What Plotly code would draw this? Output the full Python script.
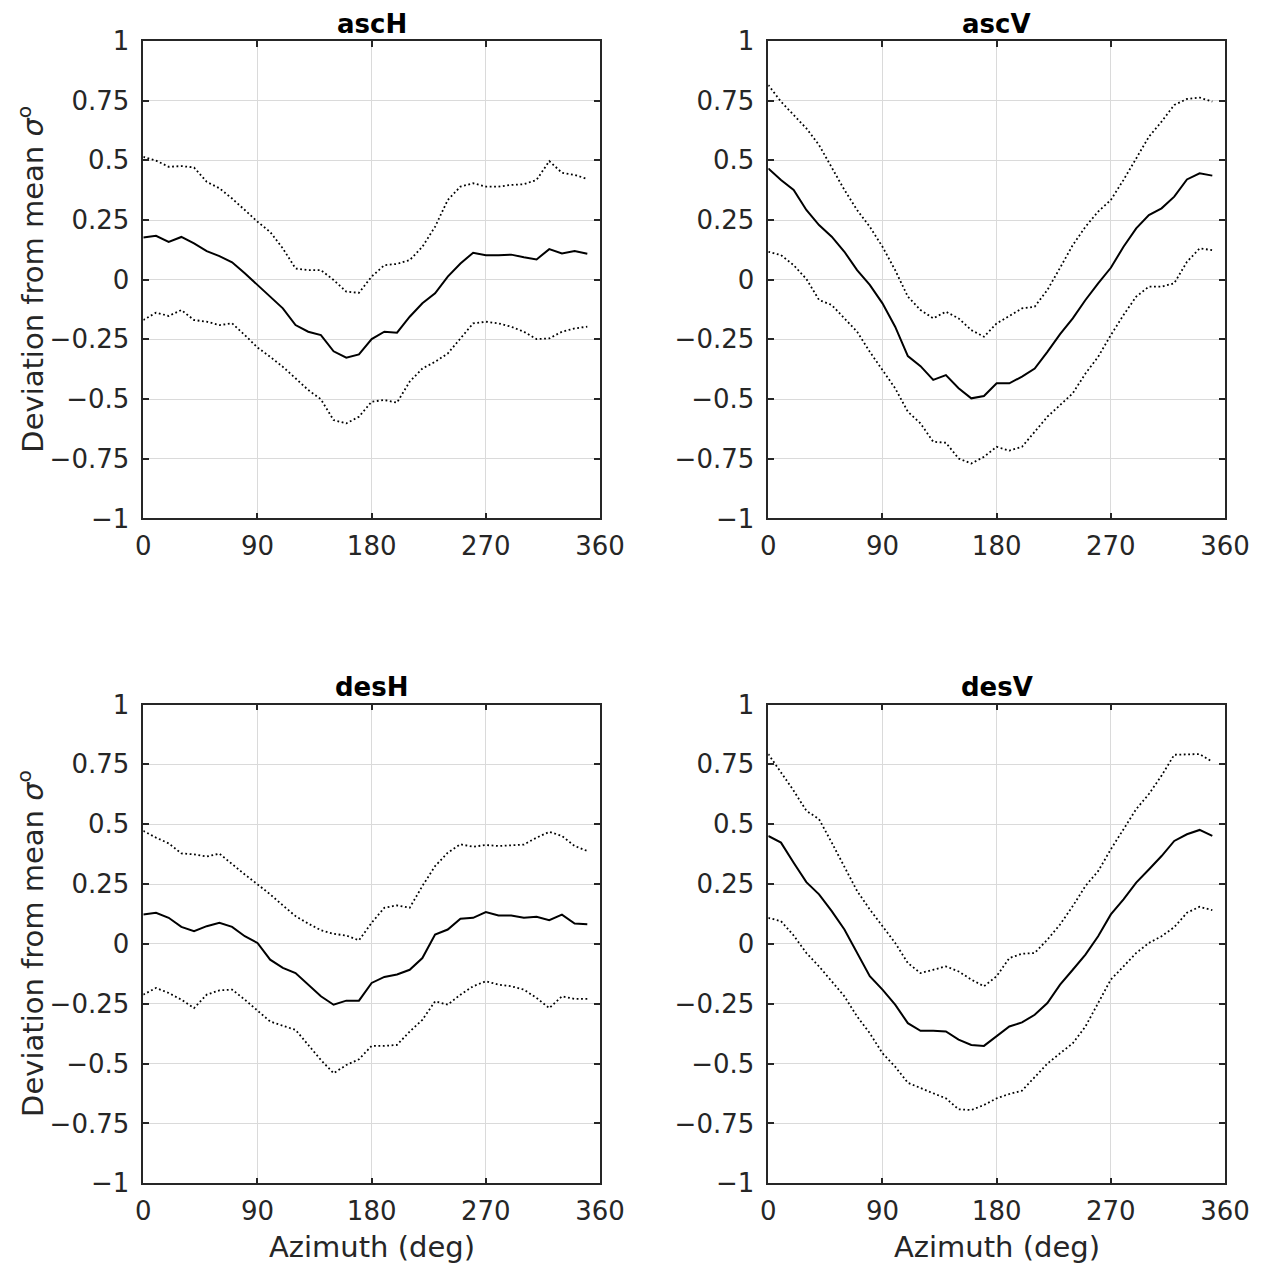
import plotly.graph_objects as go

# Azimuth bins (deg)
azimuth = [0, 10, 20, 30, 40, 50, 60, 70, 80, 90, 100, 110, 120, 130, 140, 150, 160, 170,
           180, 190, 200, 210, 220, 230, 240, 250, 260, 270, 280, 290, 300, 310, 320, 330, 340, 350]

# Ascending pass, H polarisation
ascH_mean = [0.177, 0.184, 0.158, 0.179, 0.152, 0.12, 0.099, 0.073, 0.027, -0.022, -0.071, -0.12,
             -0.19, -0.218, -0.232, -0.30, -0.327, -0.313, -0.249, -0.218, -0.222, -0.155, -0.099, -0.057,
             0.013, 0.068, 0.113, 0.102, 0.102, 0.105, 0.094, 0.085, 0.128, 0.11, 0.12, 0.109]
ascH_upper = [0.515, 0.499, 0.473, 0.476, 0.47, 0.41, 0.383, 0.34, 0.292, 0.243, 0.20, 0.131,
              0.047, 0.04, 0.04, -0.001, -0.05, -0.055, 0.013, 0.061, 0.066, 0.082, 0.138, 0.222,
              0.334, 0.39, 0.404, 0.39, 0.39, 0.397, 0.40, 0.418, 0.497, 0.448, 0.439, 0.422]
ascH_lower = [-0.169, -0.138, -0.152, -0.127, -0.169, -0.176, -0.19, -0.183, -0.232, -0.284, -0.323, -0.365,
              -0.413, -0.462, -0.501, -0.588, -0.602, -0.574, -0.511, -0.504, -0.515, -0.427, -0.372, -0.344,
              -0.309, -0.246, -0.183, -0.176, -0.183, -0.197, -0.218, -0.249, -0.246, -0.218, -0.204, -0.197]

# Ascending pass, V polarisation
ascV_mean = [0.466, 0.418, 0.376, 0.292, 0.229, 0.18, 0.117, 0.04, -0.022, -0.099, -0.197, -0.32,
             -0.362, -0.42, -0.40, -0.455, -0.497, -0.487, -0.434, -0.434, -0.406, -0.372, -0.302, -0.228,
             -0.162, -0.085, -0.015, 0.05, 0.138, 0.215, 0.271, 0.299, 0.348, 0.42, 0.446, 0.436]
ascV_upper = [0.816, 0.746, 0.69, 0.634, 0.564, 0.473, 0.376, 0.292, 0.222, 0.138, 0.04, -0.071,
              -0.127, -0.162, -0.134, -0.162, -0.211, -0.239, -0.183, -0.152, -0.12, -0.113, -0.043, 0.05,
              0.145, 0.222, 0.285, 0.334, 0.418, 0.508, 0.599, 0.662, 0.732, 0.757, 0.763, 0.746]
ascV_lower = [0.117, 0.103, 0.061, 0.003, -0.085, -0.106, -0.162, -0.218, -0.302, -0.378, -0.455, -0.553,
              -0.602, -0.679, -0.683, -0.749, -0.77, -0.742, -0.70, -0.716, -0.70, -0.637, -0.574, -0.525,
              -0.476, -0.393, -0.323, -0.232, -0.148, -0.071, -0.029, -0.029, -0.015, 0.075, 0.131, 0.124]

# Descending pass, H polarisation
desH_mean = [0.123, 0.13, 0.109, 0.071, 0.053, 0.074, 0.088, 0.071, 0.032, 0.004, -0.066, -0.10,
             -0.122, -0.17, -0.219, -0.254, -0.237, -0.237, -0.163, -0.138, -0.128, -0.108, -0.059, 0.039,
             0.06, 0.105, 0.109, 0.133, 0.119, 0.119, 0.109, 0.113, 0.099, 0.122, 0.085, 0.082]
desH_upper = [0.472, 0.444, 0.42, 0.378, 0.374, 0.365, 0.377, 0.332, 0.29, 0.249, 0.207, 0.161,
              0.116, 0.085, 0.057, 0.042, 0.035, 0.015, 0.088, 0.151, 0.161, 0.151, 0.242, 0.325,
              0.381, 0.416, 0.406, 0.413, 0.409, 0.412, 0.415, 0.444, 0.468, 0.451, 0.409, 0.388]
desH_lower = [-0.212, -0.184, -0.205, -0.233, -0.268, -0.212, -0.194, -0.191, -0.233, -0.278, -0.324, -0.342,
              -0.359, -0.422, -0.485, -0.54, -0.506, -0.482, -0.426, -0.426, -0.422, -0.366, -0.317, -0.24,
              -0.254, -0.212, -0.177, -0.156, -0.17, -0.177, -0.191, -0.226, -0.268, -0.219, -0.23, -0.23]

# Descending pass, V polarisation
desV_mean = [0.451, 0.423, 0.339, 0.258, 0.207, 0.137, 0.06, -0.038, -0.135, -0.191, -0.254, -0.331,
             -0.363, -0.363, -0.366, -0.40, -0.422, -0.426, -0.387, -0.345, -0.328, -0.296, -0.247, -0.17,
             -0.108, -0.045, 0.032, 0.123, 0.186, 0.256, 0.311, 0.367, 0.43, 0.458, 0.476, 0.451]
desV_upper = [0.793, 0.716, 0.64, 0.556, 0.521, 0.423, 0.325, 0.221, 0.144, 0.074, 0.004, -0.08,
              -0.122, -0.108, -0.094, -0.115, -0.149, -0.177, -0.135, -0.059, -0.041, -0.038, 0.018, 0.081,
              0.158, 0.242, 0.304, 0.395, 0.479, 0.563, 0.626, 0.703, 0.79, 0.793, 0.793, 0.761]
desV_lower = [0.109, 0.095, 0.035, -0.038, -0.094, -0.156, -0.219, -0.303, -0.373, -0.457, -0.513, -0.58,
              -0.603, -0.624, -0.645, -0.691, -0.694, -0.673, -0.645, -0.627, -0.613, -0.555, -0.50, -0.457,
              -0.415, -0.345, -0.247, -0.149, -0.094, -0.038, 0.004, 0.032, 0.07, 0.13, 0.155, 0.141]

panel_titles = ["ascH", "ascV", "desH", "desV"]
x_ticks = [0, 90, 180, 270, 360]
x_ticktext = ["0", "90", "180", "270", "360"]
y_ticks = [-1, -0.75, -0.5, -0.25, 0, 0.25, 0.5, 0.75, 1]
y_ticktext = ["\u22121", "\u22120.75", "\u22120.5", "\u22120.25", "0", "0.25", "0.5", "0.75", "1"]

panels = [
    (ascH_mean, ascH_upper, ascH_lower),
    (ascV_mean, ascV_upper, ascV_lower),
    (desH_mean, desH_upper, desH_lower),
    (desV_mean, desV_upper, desV_lower),
]

W, H = 1265, 1270
# plot-area boxes in pixels: (left, right, top, bottom)
boxes = [
    (143.3, 600.0, 41.0, 518.4),
    (768.3, 1225.0, 41.0, 518.4),
    (143.3, 600.0, 704.5, 1183.3),
    (768.3, 1225.0, 704.5, 1183.3),
]

INK = "#262626"
FONT = "DejaVu Sans"

fig = go.Figure()
layout = dict(
    width=W, height=H,
    margin=dict(l=0, r=0, t=0, b=0, autoexpand=False),
    paper_bgcolor="white", plot_bgcolor="white",
    showlegend=False,
    font=dict(family=FONT, color=INK, size=26),
)
annotations = []

for i, ((mean, upper, lower), box) in enumerate(zip(panels, boxes)):
    n = i + 1
    xa = "x" if n == 1 else f"x{n}"
    ya = "y" if n == 1 else f"y{n}"
    left, right, top, bottom = box
    for series, dash, lw in ((upper, "1.8px,2.6px", 1.8), (lower, "1.8px,2.6px", 1.8), (mean, "solid", 2.0)):
        fig.add_trace(go.Scatter(
            x=azimuth, y=series, mode="lines", xaxis=xa, yaxis=ya,
            line=dict(color="black", width=lw, dash=dash),
            hoverinfo="skip",
        ))
    axis_common = dict(
        showline=True, linecolor=INK, linewidth=1.6, mirror="ticks",
        ticks="inside", ticklen=6, tickwidth=1.6, tickcolor=INK,
        showgrid=True, gridcolor="#dadada", gridwidth=1,
        zeroline=False, automargin=False,
        tickfont=dict(family=FONT, size=26, color=INK),
    )
    layout["xaxis" if n == 1 else f"xaxis{n}"] = dict(
        axis_common,
        domain=[left / W, right / W], anchor=ya,
        range=[0, 360], tickmode="array", tickvals=x_ticks, ticktext=x_ticktext,
        ticklabelstandoff=4,
    )
    layout["yaxis" if n == 1 else f"yaxis{n}"] = dict(
        axis_common,
        domain=[1 - bottom / H, 1 - top / H], anchor=xa,
        range=[-1, 1], tickmode="array", tickvals=y_ticks, ticktext=y_ticktext,
        ticklabelstandoff=7,
    )
    # panel title
    annotations.append(dict(
        text=f"<b>{panel_titles[i]}</b>", xref="paper", yref="paper",
        x=(left + right) / 2 / W, y=1 - top / H,
        xanchor="center", yanchor="bottom", showarrow=False,
        font=dict(family=FONT, size=26, color="black"),
    ))
    # y-axis label on the left column
    if i % 2 == 0:
        annotations.append(dict(
            text="Deviation from mean <i>\u03c3</i><sup>o</sup>", xref="paper", yref="paper",
            x=31 / W, y=1 - (top + bottom) / 2 / H, xanchor="center", yanchor="middle",
            textangle=-90, showarrow=False,
            font=dict(family=FONT, size=29, color=INK),
        ))
    # x-axis label on the bottom row
    if i >= 2:
        annotations.append(dict(
            text="Azimuth (deg)", xref="paper", yref="paper",
            x=(left + right) / 2 / W, y=1 - 1247 / H, xanchor="center", yanchor="middle",
            showarrow=False, font=dict(family=FONT, size=29, color=INK),
        ))

layout["annotations"] = annotations
fig.update_layout(**layout)
fig.write_html("out.html")
